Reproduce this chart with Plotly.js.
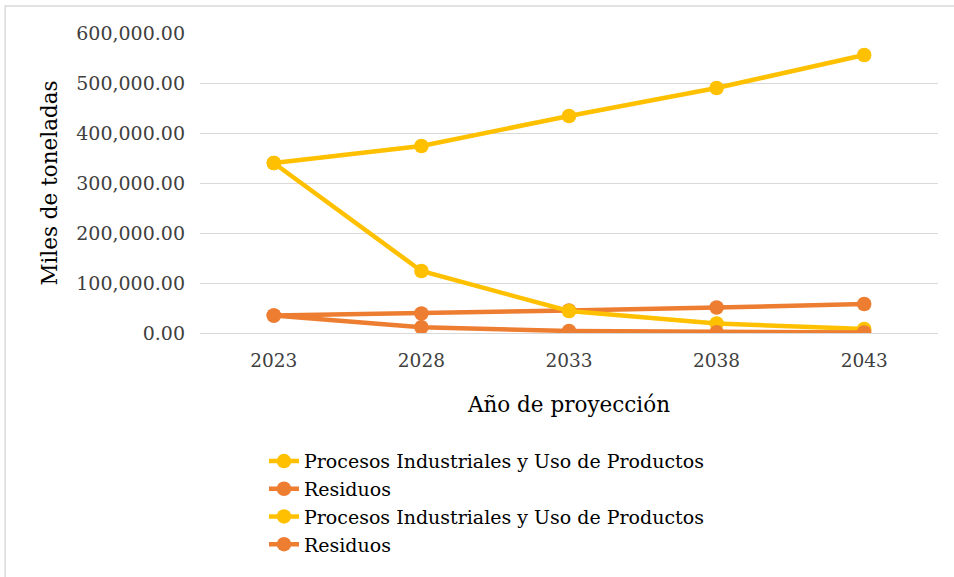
<!DOCTYPE html>
<html>
<head>
<meta charset="utf-8">
<script src="https://cdn.plot.ly/plotly-3.0.1.min.js"></script>
<style>html,body{margin:0;padding:0;background:#fff;}#chart{width:954px;height:577px;}</style>
</head>
<body>
<div id="chart"></div>
<script>
const years = ["2023", "2028", "2033", "2038", "2043"];
const seriesNames = ["Procesos Industriales y Uso de Productos", "Residuos", "Procesos Industriales y Uso de Productos", "Residuos"];
const ippuA = [340000, 374000, 434000, 490000, 556000];
const residuosA = [35000, 39000, 45000, 51000, 58000];
const ippuB = [340000, 124000, 44000, 19000, 8000];
const residuosB = [35000, 11500, 4000, 1500, 1000];
const yTicks = [0, 100000, 200000, 300000, 400000, 500000, 600000];
const xTitle = "Año de proyección";
const yTitle = "Miles de toneladas";

const yellow = "#FFC000", orange = "#ED7D31";
const serif = "DejaVu Serif";
const values = [ippuA, residuosA, ippuB, residuosB];
const colors = [yellow, orange, yellow, orange];

const traces = values.map((v, i) => ({
  type: "scatter",
  mode: "lines+markers",
  x: years,
  y: v,
  name: seriesNames[i],
  line: {color: colors[i], width: 4.5},
  marker: {color: colors[i], size: 14.5, symbol: "circle"}
}));

const layout = {
  width: 954, height: 577,
  margin: {l: 200, r: 16, t: 33, b: 244, autoexpand: false},
  paper_bgcolor: "#fff", plot_bgcolor: "#fff",
  font: {family: serif, color: "#404040"},
  showlegend: true,
  legend: {
    x: 0.0867, y: -0.364, xanchor: "left", yanchor: "top",
    font: {family: serif, size: 19, color: "#000"},
    tracegroupgap: 0, itemwidth: 30
  },
  xaxis: {
    type: "category",
    range: [-0.5, 4.5],
    showgrid: false, zeroline: false, showline: false,
    ticks: "", ticklabelstandoff: 14,
    tickfont: {family: serif, size: 18.5, color: "#404040"},
    title: {text: xTitle, font: {family: serif, size: 21.5, color: "#000"}, standoff: 27}
  },
  yaxis: {
    range: [0, 600000],
    tickvals: yTicks,
    tickformat: ",.2f",
    showgrid: true, gridcolor: "#d9d9d9", gridwidth: 1,
    zeroline: true, zerolinecolor: "#d9d9d9", zerolinewidth: 1,
    showline: false, ticks: "", ticklabelstandoff: 14,
    tickfont: {family: serif, size: 19, color: "#404040"},
    title: {text: yTitle, font: {family: serif, size: 21.5, color: "#000"}, standoff: 12}
  },
  shapes: [{
    type: "rect", xref: "paper", yref: "paper",
    x0: -0.264, x1: 1.05, y0: -0.95, y1: 1.09,
    line: {color: "#d9d9d9", width: 1.5}, fillcolor: "rgba(0,0,0,0)", layer: "below"
  }]
};

Plotly.newPlot("chart", traces, layout, {displayModeBar: false, staticPlot: true});
</script>
</body>
</html>
